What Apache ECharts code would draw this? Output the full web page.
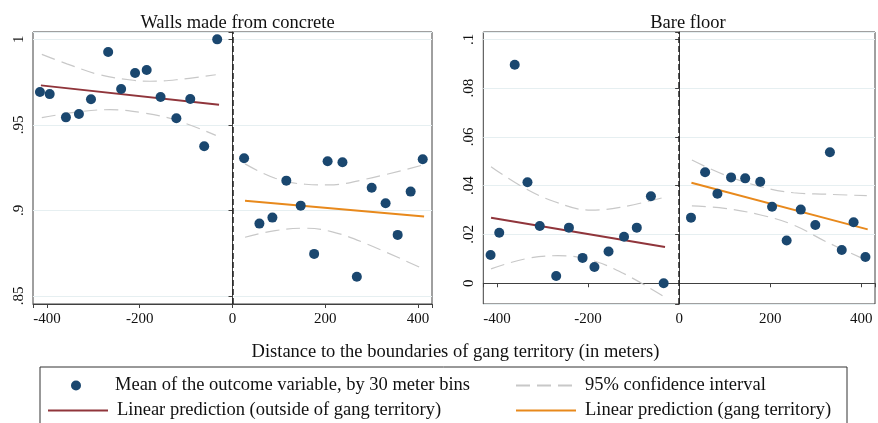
<!DOCTYPE html>
<html><head><meta charset="utf-8">
<script src="https://cdn.jsdelivr.net/npm/echarts@6/dist/echarts.min.js"></script>
<style>html,body{margin:0;padding:0;background:#fff}#c{width:878px;height:423px}</style>
</head><body><div id="c"></div>
<script>
// ---------- Panel titles / texts ----------
const panelTitles = ['Walls made from concrete', 'Bare floor'];
const xTitle = 'Distance to the boundaries of gang territory (in meters)';
const legendNames = ['Mean of the outcome variable, by 30 meter bins', '95% confidence interval',
  'Linear prediction (outside of gang territory)', 'Linear prediction (gang territory)'];

// ---------- Walls made from concrete ----------
const wallsOutX = [-415, -394, -359, -331, -305, -268, -240, -210, -185, -155, -121, -91, -61, -33];
const wallsOutY = [0.9692, 0.9680, 0.9544, 0.9564, 0.9650, 0.9926, 0.9710, 0.9803, 0.9821, 0.9663, 0.9539, 0.9651, 0.9375, 1.0000];
const wallsInX = [25, 58, 86, 116, 147, 176, 205, 237, 268, 300, 330, 356, 384, 410];
const wallsInY = [0.9305, 0.8923, 0.8958, 0.9174, 0.9028, 0.8746, 0.9287, 0.9282, 0.8612, 0.9133, 0.9042, 0.8857, 0.9110, 0.9299];
const wallsFitOutX = [-413, -29];
const wallsFitOutY = [0.9731, 0.9618];
const wallsFitInX = [27, 413];
const wallsFitInY = [0.9057, 0.8964];
const wallsCiOutUpX = [-411, -357, -286, -214, -178, -121, -36];
const wallsCiOutUpY = [0.9912, 0.9857, 0.9793, 0.9761, 0.9755, 0.9764, 0.9793];
const wallsCiOutLoX = [-411, -336, -264, -192, -121, -36];
const wallsCiOutLoY = [0.9542, 0.9575, 0.9589, 0.9570, 0.9527, 0.9439];
const wallsCiInUpX = [27, 92, 157, 207, 286, 411];
const wallsCiInUpY = [0.9272, 0.9188, 0.9153, 0.9149, 0.9182, 0.9266];
const wallsCiInLoX = [27, 92, 157, 213, 286, 411];
const wallsCiInLoY = [0.8843, 0.8882, 0.8896, 0.8876, 0.8808, 0.8658];

// ---------- Bare floor ----------
const floorOutX = [-414, -395, -361, -333, -306, -270, -242, -212, -186, -155, -121, -93, -62, -34];
const floorOutY = [0.0116, 0.0207, 0.0896, 0.0414, 0.0235, 0.0030, 0.0228, 0.0104, 0.0067, 0.0130, 0.0191, 0.0228, 0.0357, 0.0000];
const floorInX = [26, 57, 84, 114, 145, 178, 204, 236, 267, 299, 331, 357, 383, 409];
const floorInY = [0.0269, 0.0455, 0.0367, 0.0434, 0.0430, 0.0416, 0.0314, 0.0175, 0.0302, 0.0239, 0.0537, 0.0136, 0.0250, 0.0108];
const floorFitOutX = [-413, -31];
const floorFitOutY = [0.0269, 0.0149];
const floorFitInX = [27, 414];
const floorFitInY = [0.0412, 0.0221];
const floorCiOutUpX = [-413, -345, -273, -194, -130, -33];
const floorCiOutUpY = [0.0478, 0.0396, 0.0334, 0.0300, 0.0311, 0.0352];
const floorCiOutLoX = [-413, -338, -266, -194, -123, -33];
const floorCiOutLoY = [0.0059, 0.0100, 0.0113, 0.0095, 0.0041, -0.0055];
const floorCiInUpX = [28, 100, 179, 251, 323, 412];
const floorCiInUpY = [0.0505, 0.0444, 0.0396, 0.0371, 0.0365, 0.0359];
const floorCiInLoX = [28, 100, 179, 251, 323, 412];
const floorCiInLoY = [0.0317, 0.0307, 0.0280, 0.0239, 0.0170, 0.0094];

// axis extents
const xRange = [-430, 430];
const wallsYRange = [0.8453, 1.0043];
const floorYRange = [-0.0085, 0.103];

const zip = (xs, ys) => xs.map((x, i) => [x, ys[i]]);
const FONT = '"Liberation Serif", "DejaVu Serif", serif';
const NAVY = '#1a476f', MAROON = '#90353b', ORANGE = '#e8891c', CIGRAY = '#c8c8c8';
const FRAME = '#404040';

function fmt(step) {
  return function (v) {
    const k = Math.round(v / step);
    if (Math.abs(v - k * step) > step * 0.01) return '';
    const r = +(k * step).toFixed(3);
    if (r === 0) return '0';
    return String(r).replace(/^0\./, '.').replace(/^-0\./, '-.');
  };
}

function panel(idx, d) {
  const s = [];
  const ci = (data) => ({
    type: 'line', name: legendNames[1], xAxisIndex: idx, yAxisIndex: idx, data,
    smooth: 0.4, symbol: 'none', silent: true, z: 2,
    lineStyle: { color: CIGRAY, width: 1.2, type: [14, 7] }, itemStyle: { color: CIGRAY }
  });
  s.push(ci(zip(d.ciOutUpX, d.ciOutUpY)));
  s.push(ci(zip(d.ciOutLoX, d.ciOutLoY)));
  s.push(ci(zip(d.ciInUpX, d.ciInUpY)));
  s.push(ci(zip(d.ciInLoX, d.ciInLoY)));
  s.push({
    type: 'line', name: legendNames[2], xAxisIndex: idx, yAxisIndex: idx,
    data: zip(d.fitOutX, d.fitOutY), symbol: 'none', z: 3,
    lineStyle: { color: MAROON, width: 2 }, itemStyle: { color: MAROON },
    markLine: {
      silent: true, symbol: 'none', label: { show: false },
      lineStyle: { color: '#222', width: 1.5, type: [6, 3] },
      data: [{ xAxis: 0 }]
    }
  });
  s.push({
    type: 'line', name: legendNames[3], xAxisIndex: idx, yAxisIndex: idx,
    data: zip(d.fitInX, d.fitInY), symbol: 'none', z: 3,
    lineStyle: { color: ORANGE, width: 2 }, itemStyle: { color: ORANGE }
  });
  const sc = (data) => ({
    type: 'scatter', name: legendNames[0], xAxisIndex: idx, yAxisIndex: idx, data,
    symbol: 'circle', symbolSize: 10, z: 5, itemStyle: { color: NAVY, opacity: 1 }
  });
  s.push(sc(zip(d.outX, d.outY)));
  s.push(sc(zip(d.inX, d.inY)));
  return s;
}

const series = [].concat(
  panel(0, {
    outX: wallsOutX, outY: wallsOutY, inX: wallsInX, inY: wallsInY,
    fitOutX: wallsFitOutX, fitOutY: wallsFitOutY, fitInX: wallsFitInX, fitInY: wallsFitInY,
    ciOutUpX: wallsCiOutUpX, ciOutUpY: wallsCiOutUpY, ciOutLoX: wallsCiOutLoX, ciOutLoY: wallsCiOutLoY,
    ciInUpX: wallsCiInUpX, ciInUpY: wallsCiInUpY, ciInLoX: wallsCiInLoX, ciInLoY: wallsCiInLoY
  }),
  panel(1, {
    outX: floorOutX, outY: floorOutY, inX: floorInX, inY: floorInY,
    fitOutX: floorFitOutX, fitOutY: floorFitOutY, fitInX: floorFitInX, fitInY: floorFitInY,
    ciOutUpX: floorCiOutUpX, ciOutUpY: floorCiOutUpY, ciOutLoX: floorCiOutLoX, ciOutLoY: floorCiOutLoY,
    ciInUpX: floorCiInUpX, ciInUpY: floorCiInUpY, ciInLoX: floorCiInLoX, ciInLoY: floorCiInLoY
  })
);

function xAxis(idx) {
  return {
    type: 'value', gridIndex: idx, min: xRange[0], max: xRange[1], splitNumber: 4,
    axisLine: { show: true, lineStyle: { color: FRAME } },
    axisTick: { show: true, length: 4, lineStyle: { color: FRAME } },
    splitLine: { show: false },
    axisLabel: { color: '#111', fontFamily: FONT, fontSize: 15, margin: 8, formatter: fmt(200) }
  };
}
function yAxis(idx, range, splitNumber, step, margin) {
  return {
    type: 'value', gridIndex: idx, min: range[0], max: range[1], splitNumber,
    axisLine: { show: true, lineStyle: { color: FRAME } },
    axisTick: { show: true, length: 4, lineStyle: { color: FRAME } },
    splitLine: { show: true, lineStyle: { color: '#e6eff1', width: 1 } },
    axisLabel: { color: '#111', fontFamily: FONT, fontSize: 15, rotate: 90, margin, formatter: fmt(step) }
  };
}

function legend(name, left, top, w, h, hideSymbol) {
  const l = {
    data: [name], left, top, orient: 'horizontal', padding: 0,
    itemWidth: w, itemHeight: h, selectedMode: false,
    textStyle: { fontFamily: FONT, fontSize: 18.5, color: '#111', padding: [0, 0, 0, 4] }
  };
  if (hideSymbol) l.itemStyle = { opacity: 0 };
  return l;
}

const option = {
  backgroundColor: '#fff',
  animation: false,
  title: [
    { text: panelTitles[0], left: 232.5, top: 9, textAlign: 'center',
      textStyle: { fontFamily: FONT, fontSize: 18.5, fontWeight: 'normal', color: '#111' } },
    { text: panelTitles[1], left: 683, top: 9, textAlign: 'center',
      textStyle: { fontFamily: FONT, fontSize: 18.5, fontWeight: 'normal', color: '#111' } },
    { text: xTitle, left: 450.5, top: 338, textAlign: 'center',
      textStyle: { fontFamily: FONT, fontSize: 18.5, fontWeight: 'normal', color: '#111' } }
  ],
  grid: [
    { left: 33, top: 32, width: 399, height: 272, show: true, borderColor: FRAME, borderWidth: 1, backgroundColor: '#fff' },
    { left: 483.3, top: 32, width: 399.5, height: 272, show: true, borderColor: FRAME, borderWidth: 1, backgroundColor: '#fff' }
  ],
  xAxis: [xAxis(0), xAxis(1)],
  yAxis: [yAxis(0, wallsYRange, 3, 0.05, 6), yAxis(1, floorYRange, 5, 0.02, 7)],
  legend: [
    legend(legendNames[0], 71, 376, 60, 10, false),
    legend(legendNames[1], 515, 376, 60, 10, true),
    legend(legendNames[2], 47, 401, 60, 10, true),
    legend(legendNames[3], 515, 401, 60, 10, true)
  ],
  graphic: [
    { type: 'rect', shape: { x: 40, y: 367, width: 807, height: 80 }, silent: true,
      style: { fill: 'none', stroke: '#333', lineWidth: 1 } }
  ],
  series
};
const chart = echarts.init(document.getElementById('c'), null, { renderer: 'canvas' });
chart.setOption(option);
</script>
</body></html>
